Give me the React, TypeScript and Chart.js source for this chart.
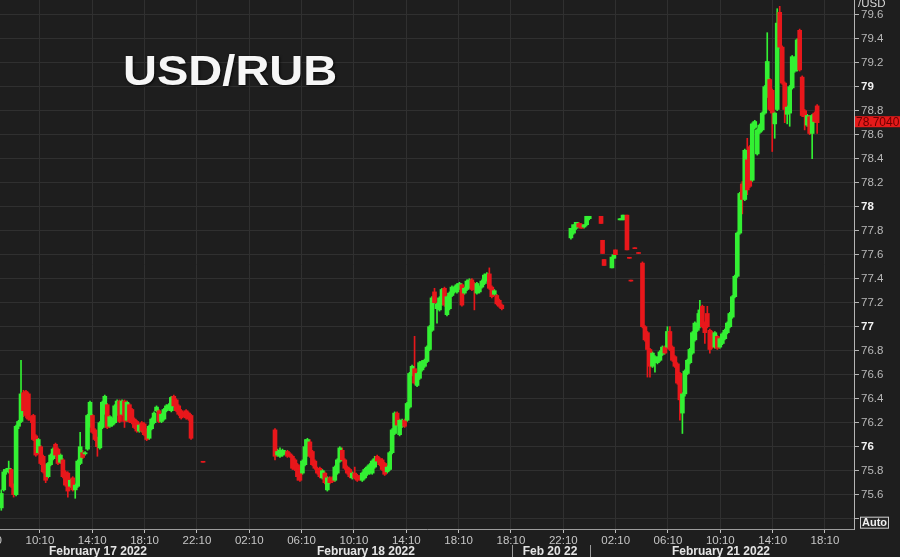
import React, { useEffect, useRef } from "react";
import { Chart, registerables } from "chart.js";

Chart.register(...registerables);

// ---------- axis / labels ----------
const WEEKEND_GAP_HOURS = 44; // Feb 18 22:00 -> Feb 20 18:00 is collapsed
const xRangeStart = "17 07:07";
const xRangeEnd = "21 20:23";
const yMin = 75.314;
const yMax = 79.7225;
const yTickValues = [75.4, 75.6, 75.8, 76, 76.2, 76.4, 76.6, 76.8, 77, 77.2, 77.4, 77.6, 77.8, 78, 78.2, 78.4, 78.6, 78.8, 79, 79.2, 79.4, 79.6];
const tickTimes = ["17 06:10", "17 10:10", "17 14:10", "17 18:10", "17 22:10", "18 02:10", "18 06:10", "18 10:10", "18 14:10", "18 18:10", "20 18:10", "20 22:10", "21 02:10", "21 06:10", "21 10:10", "21 14:10", "21 18:10"];
const dateLabels = ["February 17 2022", "February 18 2022", "Feb 20 22", "February 21 2022"];
const dateLabelTimes = ["17 14:36", "18 11:05", "20 21:09", "21 10:13"];
const dateSeparatorTimes = ["20 18:14", "21 00:12"];
const titleText = "USD/RUB";
const currencyText = "/USD";
const lastPrice = 78.704;
const lastPriceText = "78.7040";
const autoText = "Auto";

// ---------- candles: [open, high, low, close] ----------
type Candle = [number, number, number, number];

const feb17Start = "17 07:13";
const feb17End = "17 21:43";
const feb17Candles: Candle[] = [
  [75.49, 75.64, 75.47, 75.61], [75.64, 75.81, 75.63, 75.79], [75.79, 75.82, 75.77, 75.81], [75.79, 75.88, 75.78, 75.82],
  [75.81, 75.82, 75.66, 75.67], [75.67, 75.69, 75.58, 75.6], [75.6, 76.18, 75.59, 76.17], [76.17, 76.22, 76.15, 76.21],
  [76.21, 76.72, 76.2, 76.44], [76.45, 76.47, 76.25, 76.3], [76.46, 76.47, 76.24, 76.26], [76.44, 76.45, 76.22, 76.23],
  [76.24, 76.25, 76.2, 76.22], [76.26, 76.27, 76.05, 76.06], [76.09, 76.1, 75.92, 75.93], [75.95, 76.07, 75.94, 76.06],
  [76.0, 76.01, 75.85, 75.86], [75.92, 75.93, 75.78, 75.79], [75.84, 75.85, 75.7, 75.72], [75.75, 75.87, 75.74, 75.86],
  [75.85, 75.94, 75.84, 75.93], [75.9, 75.99, 75.89, 75.98], [76.02, 76.03, 75.92, 75.93], [75.98, 75.99, 75.85, 75.86],
  [75.87, 75.94, 75.86, 75.93], [75.89, 75.9, 75.74, 75.75], [75.79, 75.8, 75.67, 75.68], [75.78, 75.79, 75.58, 75.63],
  [75.67, 75.73, 75.66, 75.72], [75.74, 75.75, 75.63, 75.64], [75.64, 75.69, 75.57, 75.68], [75.67, 75.89, 75.66, 75.88],
  [75.86, 76.12, 75.85, 76.0], [75.95, 75.97, 75.9, 75.91], [75.94, 75.96, 75.93, 75.95], [75.98, 76.27, 75.97, 76.26],
  [76.17, 76.38, 76.16, 76.37], [76.26, 76.27, 76.11, 76.12], [76.14, 76.15, 76.05, 76.06], [76.07, 76.08, 75.92, 76.0],
  [75.99, 76.21, 75.98, 76.2], [76.16, 76.38, 76.15, 76.37], [76.28, 76.43, 76.27, 76.42], [76.35, 76.36, 76.15, 76.16],
  [76.17, 76.26, 76.16, 76.25], [76.18, 76.24, 76.17, 76.23], [76.2, 76.35, 76.19, 76.34], [76.27, 76.39, 76.26, 76.38],
  [76.38, 76.39, 76.2, 76.21], [76.27, 76.39, 76.26, 76.38], [76.38, 76.39, 76.16, 76.21], [76.22, 76.38, 76.21, 76.37],
  [76.35, 76.36, 76.2, 76.21], [76.31, 76.32, 76.19, 76.2], [76.23, 76.24, 76.15, 76.16], [76.21, 76.22, 76.12, 76.13],
  [76.13, 76.19, 76.12, 76.18], [76.2, 76.21, 76.12, 76.13], [76.19, 76.2, 76.09, 76.1], [76.14, 76.15, 76.05, 76.06],
  [76.07, 76.18, 76.06, 76.17], [76.15, 76.24, 76.14, 76.23], [76.2, 76.29, 76.19, 76.28], [76.3, 76.34, 76.29, 76.33],
  [76.3, 76.31, 76.2, 76.21], [76.21, 76.28, 76.2, 76.27], [76.23, 76.32, 76.22, 76.31], [76.3, 76.35, 76.29, 76.34],
  [76.32, 76.36, 76.31, 76.35], [76.3, 76.42, 76.29, 76.41], [76.42, 76.43, 76.33, 76.34], [76.39, 76.4, 76.29, 76.3],
  [76.34, 76.35, 76.26, 76.27], [76.3, 76.31, 76.23, 76.24], [76.28, 76.29, 76.25, 76.26], [76.3, 76.31, 76.23, 76.24],
  [76.28, 76.29, 76.22, 76.23], [76.26, 76.27, 76.06, 76.07],
];
const feb17LateTimes = ["17 22:38"];
const feb17LateCandles: Candle[] = [[75.87, 75.87, 75.87, 75.87]];

const feb18Start = "18 04:08";
const feb18End = "18 21:28";
const feb18Candles: Candle[] = [
  [76.14, 76.15, 75.89, 75.92], [75.93, 75.98, 75.92, 75.96], [75.92, 75.99, 75.91, 75.97], [75.93, 75.98, 75.92, 75.97],
  [75.95, 75.97, 75.94, 75.96], [75.96, 75.97, 75.91, 75.92], [75.94, 75.95, 75.91, 75.92], [75.92, 75.93, 75.81, 75.82],
  [75.89, 75.9, 75.8, 75.81], [75.85, 75.86, 75.72, 75.75], [75.83, 75.84, 75.71, 75.72], [75.78, 75.89, 75.77, 75.88],
  [75.85, 76.06, 75.84, 76.0], [75.93, 76.07, 75.92, 76.06], [76.04, 76.06, 75.91, 75.92], [75.96, 75.97, 75.84, 75.85],
  [75.88, 75.89, 75.81, 75.82], [75.82, 75.83, 75.77, 75.78], [75.82, 75.83, 75.74, 75.75], [75.74, 75.81, 75.73, 75.8],
  [75.78, 75.79, 75.69, 75.7], [75.64, 75.75, 75.63, 75.74], [75.74, 75.75, 75.69, 75.7], [75.74, 75.75, 75.7, 75.71],
  [75.72, 75.84, 75.71, 75.83], [75.78, 75.9, 75.77, 75.89], [75.88, 76.0, 75.87, 75.99], [75.97, 75.99, 75.88, 75.89],
  [75.89, 75.9, 75.81, 75.82], [75.83, 75.84, 75.77, 75.78], [75.81, 75.82, 75.74, 75.75], [75.74, 75.79, 75.73, 75.78],
  [75.78, 75.83, 75.73, 75.74], [75.76, 75.77, 75.71, 75.72], [75.75, 75.76, 75.72, 75.73], [75.72, 75.79, 75.71, 75.78],
  [75.74, 75.82, 75.73, 75.81], [75.77, 75.84, 75.76, 75.83], [75.78, 75.86, 75.77, 75.85], [75.78, 75.89, 75.77, 75.88],
  [75.83, 75.92, 75.82, 75.9], [75.92, 75.93, 75.87, 75.88], [75.9, 75.91, 75.84, 75.85], [75.89, 75.9, 75.8, 75.81],
  [75.86, 75.87, 75.76, 75.77], [75.79, 75.84, 75.78, 75.83], [75.81, 75.96, 75.8, 75.95], [75.95, 76.15, 75.94, 76.14],
  [76.11, 76.29, 76.1, 76.28], [76.28, 76.29, 76.17, 76.18], [76.1, 76.23, 76.09, 76.22], [76.17, 76.23, 76.16, 76.22],
  [76.22, 76.23, 76.16, 76.17], [76.22, 76.37, 76.21, 76.36], [76.33, 76.62, 76.32, 76.61], [76.6, 76.68, 76.59, 76.67],
  [76.65, 76.92, 76.52, 76.53], [76.51, 76.62, 76.5, 76.61], [76.57, 76.71, 76.56, 76.7], [76.64, 76.72, 76.63, 76.71],
  [76.67, 76.73, 76.66, 76.72], [76.71, 76.84, 76.7, 76.83], [76.81, 77.01, 76.8, 77.0], [76.97, 77.25, 76.96, 77.24],
  [77.29, 77.32, 77.19, 77.2], [77.15, 77.2, 77.03, 77.19], [77.14, 77.25, 77.13, 77.24], [77.19, 77.32, 77.18, 77.31],
  [77.32, 77.33, 77.17, 77.18], [77.1, 77.26, 77.09, 77.25], [77.15, 77.29, 77.14, 77.28], [77.26, 77.34, 77.25, 77.33],
  [77.29, 77.34, 77.28, 77.33], [77.29, 77.36, 77.28, 77.35], [77.32, 77.37, 77.31, 77.36], [77.35, 77.36, 77.17, 77.18],
  [77.28, 77.33, 77.27, 77.32], [77.31, 77.39, 77.3, 77.38], [77.33, 77.4, 77.32, 77.39], [77.39, 77.4, 77.3, 77.31],
  [77.36, 77.37, 77.14, 77.31], [77.28, 77.37, 77.27, 77.36], [77.29, 77.34, 77.28, 77.33], [77.33, 77.39, 77.32, 77.38],
  [77.36, 77.44, 77.35, 77.43], [77.39, 77.45, 77.38, 77.44], [77.44, 77.49, 77.31, 77.32], [77.33, 77.34, 77.24, 77.25],
  [77.27, 77.31, 77.26, 77.3], [77.26, 77.27, 77.18, 77.19], [77.22, 77.23, 77.16, 77.17], [77.18, 77.19, 77.14, 77.15],
];

const overnightTimes = [
  "20 22:45", "20 22:57", "20 23:09", "20 23:21", "20 23:33", "20 23:45", "20 23:57", "21 00:09",
  "21 01:03", "21 01:10", "21 01:17", "21 01:53", "21 02:02", "21 02:09", "21 02:30", "21 02:44",
  "21 03:02", "21 03:13", "21 03:20", "21 03:38", "21 03:55",
];
const overnightCandles: Candle[] = [
  [77.74, 77.82, 77.73, 77.82], [77.78, 77.85, 77.77, 77.85], [77.82, 77.87, 77.81, 77.87], [77.86, 77.87, 77.83, 77.83],
  [77.85, 77.86, 77.82, 77.82], [77.83, 77.85, 77.82, 77.85], [77.85, 77.92, 77.84, 77.92], [77.9, 77.92, 77.89, 77.92],
  [77.92, 77.92, 77.86, 77.86], [77.72, 77.72, 77.61, 77.61], [77.56, 77.56, 77.51, 77.51], [77.49, 77.58, 77.49, 77.58],
  [77.57, 77.6, 77.57, 77.6], [77.64, 77.64, 77.6, 77.6], [77.89, 77.9, 77.89, 77.9], [77.89, 77.93, 77.89, 77.93],
  [77.93, 77.93, 77.64, 77.64], [77.57, 77.57, 77.57, 77.57], [77.38, 77.38, 77.38, 77.38], [77.65, 77.65, 77.65, 77.65],
  [77.61, 77.61, 77.61, 77.61],
];

const feb21Start = "21 04:13";
const feb21End = "21 17:34";
const feb21Candles: Candle[] = [
  [77.53, 77.54, 76.99, 77.0], [77.0, 77.01, 76.88, 76.89], [76.95, 76.96, 76.58, 76.81], [76.81, 76.82, 76.58, 76.67],
  [76.67, 76.79, 76.66, 76.78], [76.7, 76.76, 76.62, 76.75], [76.7, 76.75, 76.69, 76.74], [76.72, 76.8, 76.71, 76.79],
  [76.77, 76.84, 76.76, 76.83], [76.83, 76.84, 76.77, 76.78], [76.83, 77.0, 76.82, 76.96], [76.96, 77.0, 76.8, 76.81],
  [76.83, 76.84, 76.71, 76.72], [76.75, 76.76, 76.66, 76.67], [76.69, 76.7, 76.52, 76.53], [76.61, 76.62, 76.22, 76.39],
  [76.28, 76.45, 76.11, 76.44], [76.44, 76.64, 76.42, 76.63], [76.61, 76.73, 76.6, 76.72], [76.7, 76.82, 76.69, 76.81],
  [76.78, 76.96, 76.77, 76.95], [76.89, 77.04, 76.88, 77.03], [76.97, 77.11, 76.96, 77.03], [77.0, 77.22, 76.99, 77.14],
  [77.17, 77.18, 76.99, 77.0], [77.03, 77.04, 76.86, 76.95], [77.11, 77.17, 76.99, 77.0], [76.97, 76.98, 76.78, 76.81],
  [76.95, 76.96, 76.82, 76.83], [76.83, 76.96, 76.82, 76.95], [76.92, 76.93, 76.81, 76.82], [76.83, 76.91, 76.82, 76.9],
  [76.86, 76.95, 76.85, 76.94], [76.9, 76.98, 76.89, 76.97], [76.95, 77.04, 76.94, 77.03], [77.0, 77.12, 76.99, 77.11],
  [77.08, 77.26, 77.07, 77.25], [77.25, 77.43, 77.24, 77.42], [77.42, 77.79, 77.41, 77.78], [77.78, 78.12, 77.77, 78.11],
  [78.19, 78.21, 77.94, 78.06], [78.06, 78.48, 78.05, 78.47], [78.39, 78.57, 78.1, 78.14], [78.5, 78.51, 78.16, 78.17],
  [78.22, 78.7, 78.21, 78.69], [78.66, 78.72, 78.65, 78.71], [78.44, 78.65, 78.43, 78.64], [78.62, 78.69, 78.61, 78.68],
  [78.64, 78.79, 78.63, 78.78], [78.78, 79.01, 78.77, 79.0], [78.92, 79.45, 78.91, 79.21], [79.06, 79.07, 78.8, 78.81],
  [78.97, 78.98, 78.46, 78.78], [78.69, 78.79, 78.57, 78.78], [78.81, 79.65, 78.8, 79.53], [79.62, 79.67, 79.32, 79.33],
  [79.33, 79.34, 79.02, 79.03], [79.03, 79.04, 78.7, 78.81], [78.77, 78.84, 78.69, 78.83], [78.78, 79.01, 78.67, 79.0],
  [78.99, 79.26, 78.98, 79.25], [79.13, 79.25, 79.12, 79.24], [79.14, 79.4, 79.13, 79.39], [79.47, 79.48, 79.13, 79.14],
  [79.08, 79.09, 78.75, 78.76], [78.8, 78.81, 78.64, 78.75], [78.68, 78.77, 78.67, 78.76], [78.75, 78.76, 78.6, 78.61],
  [78.61, 78.77, 78.4, 78.76], [78.78, 78.79, 78.7, 78.71], [78.84, 78.85, 78.61, 78.7],
];

// ---------- styling ----------
const BG = "#1e1e1e";
const GRID = "#303030";
const UP = "#33f033";
const DOWN = "#e8171b";
const AXIS_LINE = "#b4b4b4";
const FONT = "'Liberation Sans', Arial, sans-serif";

function axisHours(stamp: string): number {
  const [d, hm] = stamp.split(" ");
  const [h, m] = hm.split(":").map(Number);
  const day = Number(d);
  const raw = (day - 17) * 24 + h + m / 60;
  return day >= 19 ? raw - WEEKEND_GAP_HOURS : raw;
}

type Placed = { t: number; c: Candle };
function spreadSession(start: string, end: string, candles: Candle[]): Placed[] {
  const a = axisHours(start);
  const b = axisHours(end);
  return candles.map((c, i) => ({ t: a + ((b - a) * i) / Math.max(1, candles.length - 1), c }));
}
function listedSession(times: string[], candles: Candle[]): Placed[] {
  return candles.map((c, i) => ({ t: axisHours(times[i]), c }));
}

const isWhole = (v: number) => Math.abs(v - Math.round(v)) < 1e-6;

export default function App() {
  const canvasRef = useRef<HTMLCanvasElement | null>(null);

  useEffect(() => {
    const canvas = canvasRef.current;
    if (!canvas) return;

    const placed: Placed[] = [
      ...spreadSession(feb17Start, feb17End, feb17Candles),
      ...listedSession(feb17LateTimes, feb17LateCandles),
      ...spreadSession(feb18Start, feb18End, feb18Candles),
      ...listedSession(overnightTimes, overnightCandles),
      ...spreadSession(feb21Start, feb21End, feb21Candles),
    ];
    const bodies = placed.map(({ t, c }) => ({ x: t, y: [Math.min(c[0], c[3]), Math.max(c[0], c[3])], up: c[3] > c[0] }));
    const wicks = placed.map(({ t, c }) => ({ x: t, y: [c[2], c[1]], up: c[3] > c[0] }));
    const colorOf = (ctx: any) => (ctx.raw && ctx.raw.up ? UP : DOWN);

    const bgPlugin = {
      id: "bg",
      beforeDraw(chart: any) {
        const { ctx, width, height } = chart;
        ctx.save();
        ctx.fillStyle = BG;
        ctx.fillRect(0, 0, width, height);
        ctx.restore();
      },
    };

    const overlayPlugin = {
      id: "overlay",
      afterDraw(chart: any) {
        const { ctx, chartArea } = chart;
        const xs = chart.scales.x;
        const ys = chart.scales.y;
        ctx.save();

        // title
        ctx.save();
        ctx.translate(123, 85);
        ctx.scale(1.12, 1);
        ctx.font = `bold 42px ${FONT}`;
        ctx.textAlign = "left";
        ctx.textBaseline = "alphabetic";
        ctx.shadowColor = "rgba(0,0,0,0.8)";
        ctx.shadowBlur = 3;
        ctx.shadowOffsetX = 1;
        ctx.shadowOffsetY = 1;
        ctx.fillStyle = "#f6f6f6";
        ctx.fillText(titleText, 0, 0);
        ctx.restore();

        // date row
        ctx.font = `bold 12px ${FONT}`;
        ctx.fillStyle = "#e4e4e4";
        ctx.textAlign = "center";
        ctx.textBaseline = "middle";
        dateLabels.forEach((label, i) => {
          ctx.fillText(label, xs.getPixelForValue(axisHours(dateLabelTimes[i])), 552);
        });
        ctx.strokeStyle = "#9a9a9a";
        ctx.lineWidth = 1;
        dateSeparatorTimes.forEach((s) => {
          const px = Math.round(xs.getPixelForValue(axisHours(s))) + 0.5;
          ctx.beginPath();
          ctx.moveTo(px, 545);
          ctx.lineTo(px, 557);
          ctx.stroke();
        });

        // currency label
        ctx.font = `11.5px ${FONT}`;
        ctx.fillStyle = "#d8d8d8";
        ctx.textAlign = "left";
        ctx.textBaseline = "middle";
        ctx.fillText(currencyText, 858, 4);

        // last price tag
        const py = ys.getPixelForValue(lastPrice);
        ctx.fillStyle = "#e51a1a";
        ctx.fillRect(chartArea.right + 1, py - 6, 46, 11);
        ctx.fillStyle = "#6a0000";
        ctx.font = `12px ${FONT}`;
        ctx.fillText(lastPriceText, chartArea.right + 2, py);

        // Auto box
        const ay = ys.getPixelForValue(75.4);
        ctx.fillStyle = "#262626";
        ctx.fillRect(860, ay - 2, 29, 12);
        ctx.strokeStyle = "#d0d0d0";
        ctx.strokeRect(860.5, ay - 1.5, 28, 11);
        ctx.fillStyle = "#f0f0f0";
        ctx.font = `bold 11px ${FONT}`;
        ctx.textAlign = "center";
        ctx.fillText(autoText, 874.5, ay + 4);

        ctx.restore();
      },
    };

    const chart = new Chart(canvas, {
      type: "bar",
      data: {
        datasets: [
          {
            data: bodies as any,
            barThickness: 4,
            minBarLength: 1,
            grouped: false,
            backgroundColor: colorOf,
            borderWidth: 0,
          } as any,
          {
            data: wicks as any,
            barThickness: 1,
            minBarLength: 1,
            grouped: false,
            backgroundColor: colorOf,
            borderWidth: 0,
          } as any,
        ],
      },
      options: {
        responsive: false,
        animation: false,
        devicePixelRatio: 1,
        layout: { padding: 0 },
        events: [],
        plugins: { legend: { display: false }, tooltip: { enabled: false }, title: { display: false } },
        scales: {
          x: {
            type: "linear",
            min: axisHours(xRangeStart),
            max: axisHours(xRangeEnd),
            offset: false,
            grid: { color: GRID, offset: false, drawTicks: true, tickLength: 4, tickColor: "#c0c0c0" },
            border: { display: true, color: "#9c9c9c" },
            ticks: {
              autoSkip: false,
              maxRotation: 0,
              minRotation: 0,
              padding: 1,
              color: "#c6c6c6",
              font: { family: FONT, size: 11.5 },
              callback: (_v: any, i: number) => (tickTimes[i] ? tickTimes[i].split(" ")[1] : ""),
            },
            afterBuildTicks: (scale: any) => {
              scale.ticks = tickTimes.map((s) => ({ value: axisHours(s) }));
            },
            afterFit: (scale: any) => {
              scale.height = 28;
              scale.paddingLeft = 0;
              scale.paddingRight = 0;
            },
          } as any,
          y: {
            type: "linear",
            position: "right",
            min: yMin,
            max: yMax,
            beginAtZero: false,
            grid: { color: GRID, drawTicks: true, tickLength: 5, tickColor: AXIS_LINE },
            border: { display: true, color: AXIS_LINE },
            ticks: {
              padding: 2,
              color: (c: any) => (c.tick && isWhole(c.tick.value) ? "#f2f2f2" : "#b9b9b9"),
              font: (c: any) => ({
                family: FONT,
                size: 11.5,
                weight: c.tick && isWhole(c.tick.value) ? "bold" : "normal",
              }),
              callback: (v: any) => {
                const n = Number(v);
                if (Math.abs(n - 75.4) < 1e-6) return "";
                return String(Number(n.toFixed(1)));
              },
            },
            afterBuildTicks: (scale: any) => {
              scale.ticks = yTickValues.map((v) => ({ value: v }));
            },
            afterFit: (scale: any) => {
              scale.width = 46;
              scale.paddingTop = 0;
              scale.paddingBottom = 0;
            },
          } as any,
        },
      },
      plugins: [bgPlugin, overlayPlugin],
    } as any);

    return () => chart.destroy();
  }, []);

  return (
    <div style={{ position: "fixed", left: 0, top: 0, width: 900, height: 557, background: BG }}>
      <canvas ref={canvasRef} width={900} height={557} style={{ display: "block", width: 900, height: 557 }} />
    </div>
  );
}
